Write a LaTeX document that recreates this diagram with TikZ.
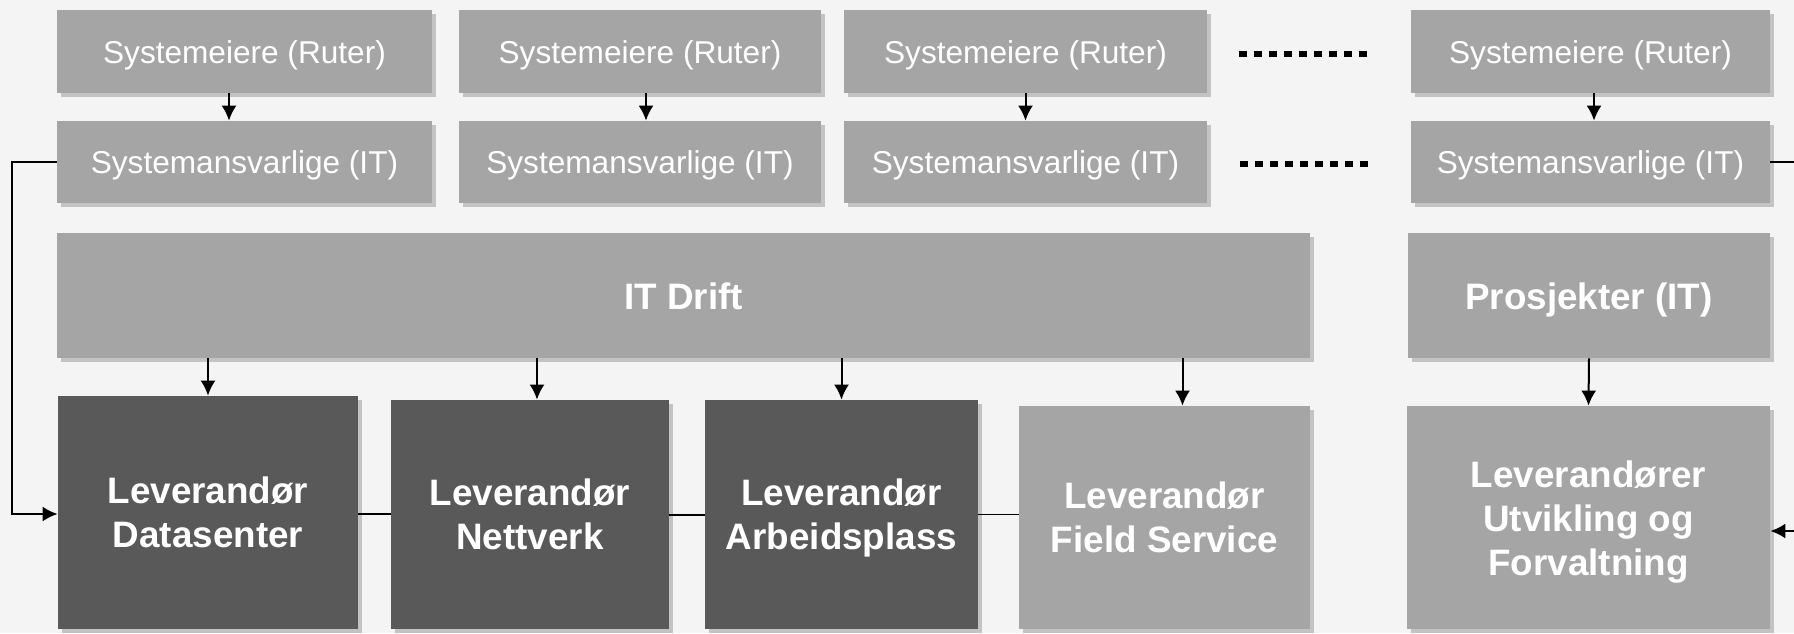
\documentclass[tikz,border=0pt]{standalone}
\usepackage{fontspec}
\setmainfont{Liberation Sans}
\usetikzlibrary{arrows.meta,shadows}
\definecolor{bg}{HTML}{F4F4F4}
\definecolor{lightbox}{HTML}{A5A5A5}
\definecolor{darkbox}{HTML}{595959}
\newcommand{\lines}[1]{\begin{tabular}[b]{@{}c@{}}#1\end{tabular}}
\tikzset{
  boxbase/.style={draw=none, inner sep=0pt, text=white, text depth=0pt,
    drop shadow={shadow xshift=2pt, shadow yshift=-2pt, opacity=0.2, fill=black}},
  rowbox/.style={boxbase, fill=lightbox, font=\fontsize{15.8}{19}\selectfont, text height=11.6pt},
  bigbox/.style={boxbase, fill=lightbox, font=\fontsize{18.4}{22}\selectfont\bfseries, text height=13.6pt},
  twoline/.style={text height=35.4pt},
  threeline/.style={text height=57.6pt},
  darkbig/.style={bigbox, fill=darkbox},
  arr/.style={line width=1pt, -{Latex[length=7.5pt,width=7.5pt]}},
  link/.style={line width=0.6pt},
  dotline/.style={line width=2.6pt, dash pattern=on 4pt off 3.5pt}
}
\begin{document}
\begin{tikzpicture}[x=0.5pt, y=-0.5pt]
\fill[bg] (0,0) rectangle (1794,633);
\useasboundingbox (0,0) rectangle (1794,633);

% top rows
\node[rowbox, minimum width=187.5pt, minimum height=41.5pt] (a1) at (244.5,51.5) {Systemeiere (Ruter)};
\node[rowbox, minimum width=181pt, minimum height=41.5pt] (b1) at (640,51.5) {Systemeiere (Ruter)};
\node[rowbox, minimum width=181.5pt, minimum height=41.5pt] (c1) at (1025.5,51.5) {Systemeiere (Ruter)};
\node[rowbox, minimum width=179.5pt, minimum height=41.5pt] (d1) at (1590.5,51.5) {Systemeiere (Ruter)};

\node[rowbox, minimum width=187.5pt, minimum height=41pt] (a2) at (244.5,162) {Systemansvarlige (IT)};
\node[rowbox, minimum width=181pt, minimum height=41pt] (b2) at (640,162) {Systemansvarlige (IT)};
\node[rowbox, minimum width=181.5pt, minimum height=41pt] (c2) at (1025.5,162) {Systemansvarlige (IT)};
\node[rowbox, minimum width=179.5pt, minimum height=41pt] (d2) at (1590.5,162) {Systemansvarlige (IT)};

% dotted separators
\coordinate (dot1s) at (1239,54);
\coordinate (dot1e) at (1372,54);
\coordinate (dot2s) at (1240,164);
\coordinate (dot2e) at (1374,164);
\draw[dotline] (dot1s) -- (dot1e);
\draw[dotline] (dot2s) -- (dot2e);

% middle
\node[bigbox, minimum width=626.5pt, minimum height=62.5pt] (drift) at (683.5,295.5) {IT Drift};
\node[bigbox, minimum width=181pt, minimum height=62.5pt] (pros) at (1589,295.5) {Prosjekter (IT)};

% bottom
\node[darkbig, twoline, minimum width=150pt, minimum height=116.5pt] (ds) at (208,512.5) {\lines{Leverandør\\Datasenter}};
\node[darkbig, twoline, minimum width=139pt, minimum height=114.5pt] (nv) at (530,514.5) {\lines{Leverandør\\Nettverk}};
\node[darkbig, twoline, minimum width=136.5pt, minimum height=114.5pt] (ap) at (841.5,514.5) {\lines{Leverandør\\Arbeidsplass}};
\node[bigbox, twoline, minimum width=145.5pt, minimum height=111.5pt] (fs) at (1164.5,517.5) {\lines{Leverandør\\Field Service}};
\node[bigbox, threeline, minimum width=181.5pt, minimum height=111.5pt] (lev) at (1588.5,517.5) {\lines{Leverandører\\Utvikling og\\Forvaltning}};

% arrows between top rows
\draw[arr] ([xshift=-7.75pt]a1.south) -- ([xshift=-7.75pt]a2.north);
\draw[arr] ([xshift=3pt]b1.south) -- ([xshift=3pt]b2.north);
\draw[arr] (c1.south) -- (c2.north);
\draw[arr] ([xshift=1.75pt]d1.south) -- ([xshift=1.75pt]d2.north);

% arrows from IT Drift
\draw[arr] (drift.south -| ds.north) -- (ds.north);
\draw[arr] ([xshift=3.5pt]drift.south -| nv.north) -- ([xshift=3.5pt]nv.north);
\draw[arr] (drift.south -| ap.north) -- (ap.north);
\draw[arr] ([xshift=9pt]drift.south -| fs.north) -- ([xshift=9pt]fs.north);
\draw[arr] (pros.south) -- (lev.north);

% links between suppliers
\draw[link] ([yshift=-0.75pt]ds.east) -- ([yshift=-0.75pt]ds.east -| nv.west);
\draw[link] ([yshift=-0.25pt]nv.east) -- ([yshift=-0.25pt]nv.east -| ap.west);
\draw[link] (ap.east) -- (ap.east -| fs.west);

% left connector
\draw[arr] (a2.west) -- ++(-45,0) |- ([yshift=-0.75pt]ds.west);

% right connector stubs
\coordinate (re1) at (1794,162);
\coordinate (re2) at (1794,531);
\draw[line width=1pt] (d2.east) -- (re1);
\draw[arr] (re2) -- ([yshift=-6.75pt]lev.east);
\end{tikzpicture}
\end{document}
